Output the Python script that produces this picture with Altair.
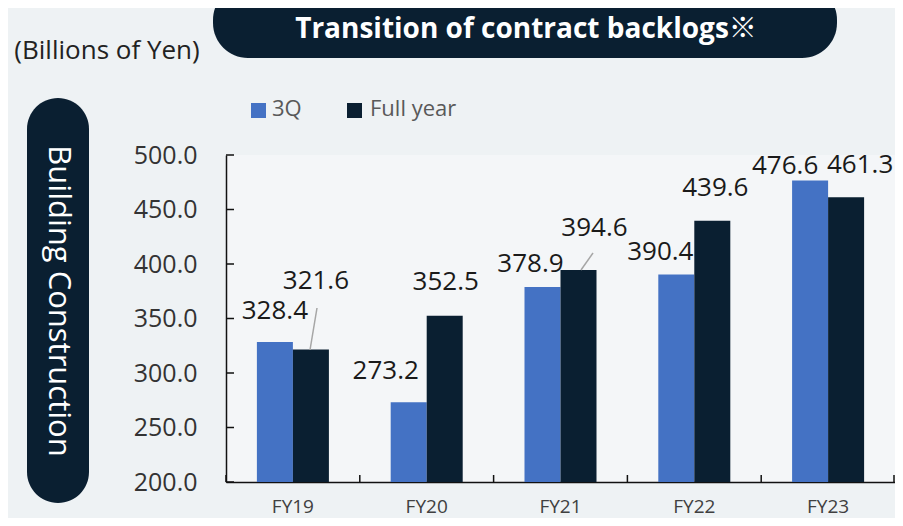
import altair as alt
import pandas as pd

# ---- data ----
years = ["FY19", "FY20", "FY21", "FY22", "FY23"]
series = ["3Q", "Full year"]
q3_values = [328.4, 273.2, 378.9, 390.4, 476.6]
full_values = [321.6, 352.5, 394.6, 439.6, 461.3]
y_tick_values = [200, 250, 300, 350, 400, 450, 500]

# label offsets (pixels, relative to the top centre of each bar)
q3_label_dx = [0, -23, -12, -16, -25]
q3_label_dy = [-31, -31, -23, -22, -15]
full_label_dx = [5, 1, 16, 3, 14]
full_label_dy = [-68, -34, -42, -33, -32]

BG = "#eef2f4"
NAVY = "#0a1f31"
BLUE = "#4472c4"
W, H = 669, 327
FONT = "Open Sans, Noto Sans CJK JP"

rows = []
for i, fy in enumerate(years):
    rows.append({"FY": fy, "series": "3Q", "value": q3_values[i],
                 "dx": q3_label_dx[i], "dy": q3_label_dy[i]})
    rows.append({"FY": fy, "series": "Full year", "value": full_values[i],
                 "dx": full_label_dx[i], "dy": full_label_dy[i]})
df = pd.DataFrame(rows)

xscale = alt.Scale(domain=years, paddingInner=0, paddingOuter=0)
xaxis = alt.Axis(title=None, ticks=False, tickSize=0, labelFontSize=19, labelFont=FONT,
                 labelColor="#404040", labelPadding=15, domainColor="#111111",
                 domainWidth=1.5, labelAngle=0, grid=False)
yscale = alt.Scale(domain=[200, 500], zero=False, nice=False)
yaxis = alt.Axis(title=None, ticks=False, tickSize=0, values=y_tick_values, format=".1f",
                 labelFontSize=25, labelFont=FONT, labelColor="#333333", labelPadding=29,
                 domainColor="#111111", domainWidth=1.5, grid=False)
xoff = alt.XOffset("series:N", scale=alt.Scale(domain=series, paddingInner=0, paddingOuter=0.858))


def X():
    return alt.X("FY:N", scale=xscale, axis=xaxis, sort=years)


def Y():
    return alt.Y("value:Q", scale=yscale, axis=yaxis)


bars = alt.Chart(df).mark_bar(clip=True).encode(
    x=X(), xOffset=xoff, y=Y(),
    color=alt.Color("series:N", scale=alt.Scale(domain=series, range=[BLUE, NAVY]),
                    legend=None),
)

label_layers = []
for r in rows:
    label_layers.append(
        alt.Chart(df).transform_filter(
            (alt.datum.FY == r["FY"]) & (alt.datum.series == r["series"])
        ).mark_text(dx=r["dx"], dy=r["dy"], fontSize=26, font=FONT, color="#1a1a1a",
                    baseline="middle", align="center").encode(
            x=X(), xOffset=xoff, y=Y(), text=alt.Text("value:Q", format=".1f"))
    )

ytick_df = pd.DataFrame({"value": y_tick_values})
yticks = alt.Chart(ytick_df).mark_rule(color="#111111", strokeWidth=1.5).encode(
    y=Y(), x=alt.value(0), x2=alt.value(8))

xticks = alt.Chart(pd.DataFrame({"FY": years})).mark_rule(color="#111111", strokeWidth=1.5).encode(
    x=alt.X("FY:N", scale=xscale, axis=xaxis, sort=years, bandPosition=0),
    y=alt.value(H - 7), y2=alt.value(H))
xtick_end = alt.Chart(pd.DataFrame({"a": [0]})).mark_rule(color="#111111", strokeWidth=1.5).encode(
    x=alt.value(W - 1), y=alt.value(H - 7), y2=alt.value(H))

one = pd.DataFrame({"a": [0]})
# leader lines from labels to bars
leader1 = alt.Chart(one).mark_rule(color="#a6a6a6", strokeWidth=1.5).encode(
    x=alt.value(91), x2=alt.value(84), y=alt.value(153), y2=alt.value(195))
leader2 = alt.Chart(one).mark_rule(color="#a6a6a6", strokeWidth=1.5).encode(
    x=alt.value(367), x2=alt.value(355), y=alt.value(98), y2=alt.value(115))

# legend (drawn by hand to match the original placement)
leg_q3_box = alt.Chart(one).mark_rect(color=BLUE).encode(
    x=alt.value(25), x2=alt.value(40), y=alt.value(-52), y2=alt.value(-37))
leg_q3_txt = alt.Chart(one).mark_text(
    text=series[0], fontSize=22, font=FONT, color="#595959", align="left",
    baseline="middle").encode(x=alt.value(46), y=alt.value(-46))
leg_fy_box = alt.Chart(one).mark_rect(color=NAVY).encode(
    x=alt.value(121), x2=alt.value(136), y=alt.value(-52), y2=alt.value(-37))
leg_fy_txt = alt.Chart(one).mark_text(
    text=series[1], fontSize=22, font=FONT, color="#595959", align="left",
    baseline="middle").encode(x=alt.value(144), y=alt.value(-46))

# title pill
title_pill = alt.Chart(one).mark_rect(color=NAVY, cornerRadius=35).encode(
    x=alt.value(-13), x2=alt.value(611), y=alt.value(-170), y2=alt.value(-97))
title_text = alt.Chart(one).mark_text(
    text="Transition of contract backlogs※", color="white", fontSize=28,
    fontWeight="bold", font=FONT, align="center", baseline="middle").encode(
    x=alt.value(300), y=alt.value(-125))
unit_text = alt.Chart(one).mark_text(
    text="(Billions of Yen)", color="#222222", fontSize=26, font=FONT,
    align="center", baseline="middle").encode(x=alt.value(-119), y=alt.value(-104))

# left vertical pill
side_pill = alt.Chart(one).mark_rect(color=NAVY, cornerRadius=31).encode(
    x=alt.value(-199), x2=alt.value(-137), y=alt.value(-57), y2=alt.value(348))
side_text = alt.Chart(one).mark_text(
    text="Building Construction", color="white", fontSize=31, font=FONT, angle=90,
    align="center", baseline="middle").encode(x=alt.value(-168), y=alt.value(146))

chart = alt.layer(
    title_pill, title_text, unit_text, side_pill, side_text,
    leg_q3_box, leg_q3_txt, leg_fy_box, leg_fy_txt,
    bars, *label_layers, yticks, xticks, xtick_end, leader1, leader2,
).properties(
    width=W, height=H,
    autosize=alt.AutoSizeParams(type="none"),
    padding={"left": 218, "top": 147, "right": 0, "bottom": 36},
    background=BG,
).configure_view(strokeWidth=0, fill="#f4f6f8")

chart.save("out.html", embed_options={"renderer": "svg", "actions": False})
